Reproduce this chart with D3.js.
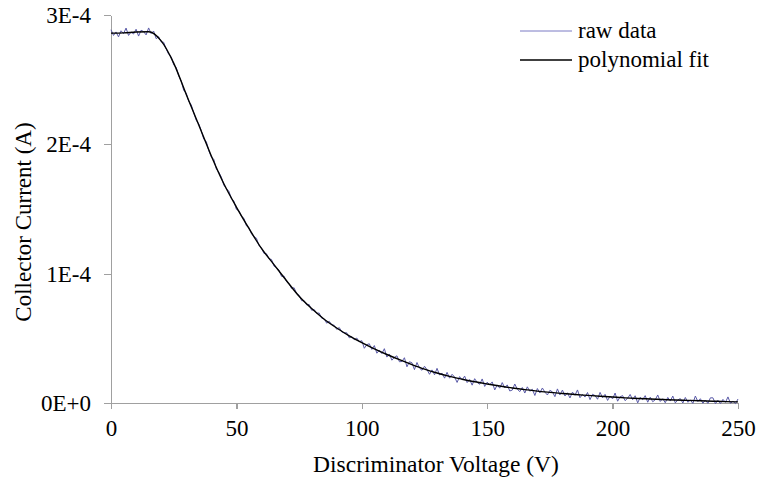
<!DOCTYPE html>
<html>
<head>
<meta charset="utf-8">
<script src="https://cdn.jsdelivr.net/npm/d3@7"></script>
<style>
  html, body { margin: 0; padding: 0; background: #fff; }
  svg text { font-family: "Liberation Serif", "Times New Roman", Tinos, "DejaVu Serif", serif; }
</style>
</head>
<body>
<svg id="chart" width="759" height="480"></svg>
<script>
// Collector current vs discriminator voltage; currents stored in units of 1E-4 A.
const UNIT = 1e-4;

// Raw measurement, one sample per volt from 0 V to 250 V
const rawVoltage = d3.range(0, 251, 1);
const rawCurrent = [
  2.886, 2.842, 2.869, 2.831, 2.878, 2.856, 2.899, 2.842, 2.869, 2.853,
  2.890, 2.837, 2.882, 2.872, 2.846, 2.900, 2.856, 2.876, 2.817, 2.832,
  2.792, 2.789, 2.738, 2.696, 2.677, 2.615, 2.594, 2.530, 2.490, 2.417,
  2.396, 2.332, 2.305, 2.243, 2.186, 2.158, 2.105, 2.039, 2.022, 1.951,
  1.903, 1.883, 1.809, 1.784, 1.746, 1.684, 1.658, 1.637, 1.581, 1.561,
  1.497, 1.487, 1.445, 1.428, 1.370, 1.357, 1.309, 1.286, 1.274, 1.218,
  1.198, 1.156, 1.154, 1.115, 1.110, 1.058, 1.046, 1.026, 0.979, 0.981,
  0.938, 0.923, 0.886, 0.891, 0.846, 0.833, 0.791, 0.791, 0.759, 0.762,
  0.717, 0.723, 0.693, 0.696, 0.656, 0.651, 0.617, 0.632, 0.606, 0.601,
  0.569, 0.584, 0.550, 0.542, 0.543, 0.504, 0.514, 0.489, 0.502, 0.474,
  0.482, 0.423, 0.451, 0.458, 0.414, 0.444, 0.385, 0.409, 0.382, 0.420,
  0.355, 0.379, 0.331, 0.353, 0.365, 0.319, 0.321, 0.350, 0.280, 0.319,
  0.311, 0.258, 0.313, 0.270, 0.253, 0.284, 0.258, 0.222, 0.256, 0.218,
  0.268, 0.217, 0.230, 0.192, 0.237, 0.192, 0.222, 0.201, 0.159, 0.204,
  0.178, 0.208, 0.158, 0.182, 0.138, 0.188, 0.159, 0.145, 0.186, 0.128,
  0.161, 0.140, 0.163, 0.101, 0.140, 0.115, 0.158, 0.117, 0.140, 0.093,
  0.100, 0.147, 0.107, 0.088, 0.120, 0.077, 0.125, 0.091, 0.106, 0.058,
  0.112, 0.078, 0.116, 0.084, 0.062, 0.098, 0.086, 0.049, 0.109, 0.062,
  0.100, 0.054, 0.079, 0.039, 0.084, 0.060, 0.101, 0.041, 0.066, 0.046,
  0.081, 0.026, 0.068, 0.057, 0.029, 0.082, 0.041, 0.067, 0.020, 0.053,
  0.032, 0.077, 0.014, 0.048, 0.057, 0.018, 0.037, 0.066, 0.025, 0.056,
  0.001, 0.044, 0.025, 0.057, 0.006, 0.045, 0.010, 0.025, 0.062, 0.012,
  0.033, 0.002, 0.043, 0.015, 0.054, 0.001, 0.024, 0.034, 0.000, 0.043,
  0.006, 0.023, -0.003, 0.054, 0.011, 0.033, -0.002, 0.023, -0.003, 0.040,
  0.040, -0.005, 0.021, -0.004, 0.028, 0.005, 0.047, -0.002, 0.014, -0.005,
  0.031
];

// Polynomial fit evaluated every 5 V
const fitVoltage = d3.range(0, 251, 5);
const fitCurrent = [
  2.860, 2.862, 2.868, 2.870, 2.800, 2.628, 2.386, 2.150, 1.910, 1.695,
  1.515, 1.350, 1.195, 1.070, 0.945, 0.825, 0.730, 0.648, 0.580, 0.519,
  0.466, 0.418, 0.375, 0.335, 0.297, 0.262, 0.232, 0.206, 0.184, 0.164,
  0.147, 0.131, 0.116, 0.103, 0.092, 0.082, 0.074, 0.066, 0.059, 0.052,
  0.046, 0.040, 0.035, 0.031, 0.027, 0.023, 0.020, 0.017, 0.014, 0.011,
  0.009
];

const xTicks = [0, 50, 100, 150, 200, 250];
const yTicks = [0, 1e-4, 2e-4, 3e-4];
const yTickLabels = ["0E+0", "1E-4", "2E-4", "3E-4"];
const seriesNames = ["raw data", "polynomial fit"];

const FONT = "'Liberation Serif', 'Times New Roman', Tinos, 'DejaVu Serif', serif";
const svg = d3.select("#chart");
const margin = { left: 111, right: 21, top: 15, bottom: 77 };
const W = 759, H = 480;

const x = d3.scaleLinear().domain([0, 250]).range([margin.left, W - margin.right]);
const y = d3.scaleLinear().domain([0, 3e-4]).range([H - margin.bottom, margin.top]);

const axisColor = "#a0a0a0";
const rawColor = "#5a5aa8";

// Axes
const xAxis = svg.append("g")
  .attr("transform", `translate(0,${y(0)})`)
  .call(d3.axisBottom(x).tickValues(xTicks).tickSize(6).tickSizeOuter(0).tickPadding(11));
const yAxis = svg.append("g")
  .attr("transform", `translate(${x(0)},0)`)
  .call(d3.axisLeft(y).tickValues(yTicks).tickFormat((d, i) => yTickLabels[i]).tickSize(7).tickSizeOuter(0).tickPadding(13));

[xAxis, yAxis].forEach(g => {
  g.attr("font-family", FONT);
  g.select(".domain").attr("stroke", axisColor).attr("stroke-width", 1.3).attr("shape-rendering", "crispEdges");
  g.selectAll(".tick line").attr("stroke", axisColor).attr("stroke-width", 1.3).attr("shape-rendering", "crispEdges");
  g.selectAll(".tick text").attr("fill", "#000").attr("font-size", 23).attr("font-family", FONT);
});

// Series
const rawLine = d3.line()
  .x((d, i) => x(rawVoltage[i]))
  .y(d => y(d * UNIT));
svg.append("path")
  .datum(rawCurrent)
  .attr("fill", "none")
  .attr("stroke", rawColor)
  .attr("stroke-width", 1)
  .attr("d", rawLine);

const fitLine = d3.line()
  .x((d, i) => x(fitVoltage[i]))
  .y(d => y(d * UNIT))
  .curve(d3.curveMonotoneX);
svg.append("path")
  .datum(fitCurrent)
  .attr("fill", "none")
  .attr("stroke", "#000")
  .attr("stroke-width", 1.4)
  .attr("d", fitLine);

// Axis titles
svg.append("text")
  .attr("x", 436).attr("y", 472)
  .attr("text-anchor", "middle")
  .attr("font-family", FONT)
  .attr("font-size", 23.5)
  .text("Discriminator Voltage (V)");
svg.append("text")
  .attr("transform", `translate(31,222) rotate(-90)`)
  .attr("text-anchor", "middle")
  .attr("font-family", FONT)
  .attr("font-size", 23)
  .text("Collector Current (A)");

// Legend
const legend = svg.append("g");
const legendColors = ["#7a7ac4", "#000"];
seriesNames.forEach((name, i) => {
  const ly = 31 + i * 29;
  legend.append("line")
    .attr("x1", 520).attr("x2", 572)
    .attr("y1", ly).attr("y2", ly)
    .attr("stroke", legendColors[i])
    .attr("stroke-width", i === 0 ? 1 : 1.4);
  legend.append("text")
    .attr("x", 578).attr("y", ly + 7)
    .attr("font-family", FONT)
    .attr("font-size", 23)
    .text(name);
});
</script>
</body>
</html>
